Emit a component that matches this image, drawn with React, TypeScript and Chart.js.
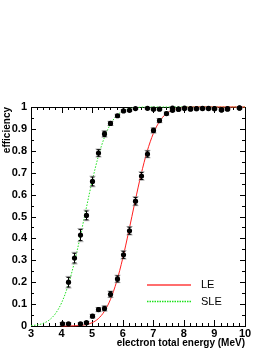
import React, { useEffect, useRef } from "react";
import { Chart, registerables } from "chart.js";

Chart.register(...registerables);

// ---- data ----
const LE_X = [4.0, 4.2, 4.6, 4.8, 5.0, 5.2, 5.4, 5.6, 5.8, 6.0, 6.2, 6.4, 6.6, 6.8, 7.0, 7.2, 7.4, 7.6, 7.8, 8.0, 8.2, 8.4, 8.6, 8.8, 9.0, 9.2, 9.4, 9.8];
const LE_Y = [0.01, 0.01, 0.01, 0.015, 0.045, 0.075, 0.08, 0.145, 0.215, 0.325, 0.435, 0.57, 0.685, 0.785, 0.893, 0.938, 0.97, 0.985, 0.99, 0.993, 0.99, 0.992, 0.993, 0.993, 0.992, 0.986, 0.99, 0.995];
const LE_ERR = [0.005, 0.004, 0.004, 0.005, 0.007, 0.008, 0.01, 0.012, 0.014, 0.016, 0.016, 0.017, 0.016, 0.014, 0.01, 0.008, 0.006, 0.005, 0.004, 0.003, 0.003, 0.003, 0.003, 0.003, 0.003, 0.003, 0.003, 0.003];

const SLE_X = [4.2, 4.4, 4.6, 4.8, 5.0, 5.2, 5.4, 5.6, 5.8, 6.0, 6.2, 6.4, 6.8, 7.0, 7.2, 7.6, 7.8, 8.0, 8.2, 8.4, 8.6, 8.8, 9.0, 9.2, 9.4, 9.8];
const SLE_Y = [0.2, 0.31, 0.415, 0.505, 0.66, 0.79, 0.877, 0.925, 0.96, 0.982, 0.985, 0.993, 0.994, 0.99, 0.99, 0.995, 0.99, 0.995, 0.993, 0.993, 0.994, 0.994, 0.993, 0.988, 0.993, 0.996];
const SLE_ERR = [0.022, 0.022, 0.025, 0.02, 0.02, 0.015, 0.012, 0.008, 0.006, 0.004, 0.004, 0.003, 0.003, 0.003, 0.003, 0.003, 0.003, 0.003, 0.003, 0.003, 0.003, 0.003, 0.003, 0.003, 0.003, 0.003];

const LE_FIT_X = [4.0, 4.4, 4.6, 4.8, 5.0, 5.2, 5.4, 5.6, 5.8, 6.0, 6.2, 6.4, 6.6, 6.8, 7.0, 7.2, 7.4, 7.6, 7.8, 8.0, 8.2, 8.4, 10.0];
const LE_FIT_Y = [0.0, 0.0008, 0.0023, 0.0062, 0.0151, 0.0334, 0.0668, 0.1217, 0.2023, 0.3085, 0.4338, 0.5662, 0.6915, 0.7977, 0.8783, 0.9332, 0.9666, 0.9849, 0.9938, 0.9977, 0.9992, 1.0, 1.0];

const SLE_FIT_X = [3.0, 3.2, 3.4, 3.6, 3.8, 4.0, 4.2, 4.4, 4.6, 4.8, 5.0, 5.2, 5.4, 5.6, 5.8, 6.0, 6.2, 6.4, 6.6, 6.8, 10.0];
const SLE_FIT_Y = [0.0018, 0.0049, 0.0122, 0.0276, 0.0567, 0.1056, 0.1797, 0.2799, 0.4013, 0.5332, 0.6615, 0.7734, 0.8606, 0.9217, 0.9599, 0.9814, 0.9922, 0.997, 0.999, 1.0, 1.0];

const X_MIN = 3;
const X_MAX = 10;
const Y_MIN = 0;
const Y_MAX = 1;

const LEGEND_LABELS = ["LE", "SLE"];
const X_TITLE = "electron total energy (MeV)";
const Y_TITLE = "efficiency";

const RED = "rgb(255,30,30)";
const GREEN = "rgb(30,225,30)";
const FONT = "'Liberation Sans', Arial, Helvetica, sans-serif";

const toPts = (xs: number[], ys: number[]) => xs.map((x, i) => ({ x, y: ys[i] }));

const framePlugin = {
  id: "frameTicks",
  beforeDatasetsDraw(chart: any) {
    const { ctx, chartArea: a, scales } = chart;
    const xs = scales.x;
    const ys = scales.y;
    ctx.save();
    ctx.strokeStyle = "#000";
    ctx.lineWidth = 1;
    ctx.strokeRect(Math.round(a.left) + 0.5, Math.round(a.top) + 0.5, Math.round(a.right - a.left), Math.round(a.bottom - a.top));
    ctx.beginPath();
    for (let k = 0; k <= (X_MAX - X_MIN) * 5; k++) {
      const v = X_MIN + k * 0.2;
      const px = Math.round(xs.getPixelForValue(v)) + 0.5;
      const len = k % 5 === 0 ? 6 : 3;
      ctx.moveTo(px, a.bottom);
      ctx.lineTo(px, a.bottom - len);
      ctx.moveTo(px, a.top);
      ctx.lineTo(px, a.top + len);
    }
    for (let k = 0; k <= 20; k++) {
      const v = Y_MIN + k * 0.05;
      const py = Math.round(ys.getPixelForValue(v)) + 0.5;
      const len = k % 2 === 0 ? 5 : 3;
      ctx.moveTo(a.left, py);
      ctx.lineTo(a.left + len, py);
      ctx.moveTo(a.right, py);
      ctx.lineTo(a.right - len, py);
    }
    ctx.stroke();
    ctx.restore();
  },
};

const errorBarPlugin = {
  id: "errorBars",
  afterDatasetsDraw(chart: any) {
    const { ctx, scales } = chart;
    const xs = scales.x;
    const ys = scales.y;
    ctx.save();
    chart.data.datasets.forEach((ds: any) => {
      if (!ds.errors) return;
      ds.data.forEach((p: any, i: number) => {
        const e = ds.errors[i];
        const px = Math.round(xs.getPixelForValue(p.x)) + 0.5;
        const g1 = ys.getPixelForValue(p.y + e * 1.2);
        const g2 = ys.getPixelForValue(p.y - e * 1.2);
        ctx.strokeStyle = "rgba(150,150,150,0.8)";
        ctx.lineWidth = 1;
        ctx.beginPath();
        ctx.moveTo(px, g1);
        ctx.lineTo(px, g2);
        ctx.moveTo(px - 3, g1);
        ctx.lineTo(px + 3, g1);
        ctx.moveTo(px - 3, g2);
        ctx.lineTo(px + 3, g2);
        ctx.stroke();
        const b1 = ys.getPixelForValue(p.y + e);
        const b2 = ys.getPixelForValue(p.y - e);
        ctx.strokeStyle = "#000";
        ctx.beginPath();
        ctx.moveTo(px, b1);
        ctx.lineTo(px, b2);
        ctx.moveTo(px - 2, b1);
        ctx.lineTo(px + 2, b1);
        ctx.moveTo(px - 2, b2);
        ctx.lineTo(px + 2, b2);
        ctx.stroke();
        ctx.fillStyle = "#000";
        ctx.beginPath();
        ctx.arc(px, ys.getPixelForValue(p.y), 2.6, 0, Math.PI * 2);
        ctx.fill();
      });
    });
    ctx.restore();
  },
};

const legendPlugin = {
  id: "innerLegend",
  afterDraw(chart: any) {
    const { ctx, chartArea: a } = chart;
    ctx.save();
    const x0 = Math.round(a.left + 116);
    const x1 = Math.round(a.left + 160);
    const tx = a.left + 170;
    const y0 = Math.round(a.bottom - 42);
    const y1 = Math.round(a.bottom - 25);
    ctx.fillStyle = "rgb(255,110,110)";
    ctx.fillRect(x0, y0, x1 - x0, 2);
    ctx.strokeStyle = GREEN;
    ctx.lineWidth = 1.5;
    ctx.setLineDash([1.5, 1]);
    ctx.beginPath();
    ctx.moveTo(x0, y1 + 0.5);
    ctx.lineTo(x1, y1 + 0.5);
    ctx.stroke();
    ctx.setLineDash([]);
    ctx.fillStyle = "#000";
    ctx.font = `11px ${FONT}`;
    ctx.textBaseline = "middle";
    ctx.textAlign = "left";
    ctx.fillText(LEGEND_LABELS[0], tx, y0 + 1);
    ctx.fillText(LEGEND_LABELS[1], tx, y1 + 1);
    ctx.restore();
  },
};

export default function App() {
  const ref = useRef<HTMLCanvasElement | null>(null);
  useEffect(() => {
    if (!ref.current) return;
    const chart = new Chart(ref.current, {
      type: "scatter",
      data: {
        datasets: [
          {
            label: "LE points",
            data: toPts(LE_X, LE_Y),
            errors: LE_ERR,
            pointRadius: 0,
            showLine: false,
            order: 0,
            clip: false,
          } as any,
          {
            label: "SLE points",
            data: toPts(SLE_X, SLE_Y),
            errors: SLE_ERR,
            pointRadius: 0,
            showLine: false,
            order: 0,
            clip: false,
          } as any,
          {
            type: "line",
            label: "LE",
            data: toPts(LE_FIT_X, LE_FIT_Y),
            borderColor: RED,
            borderWidth: 1,
            pointRadius: 0,
            cubicInterpolationMode: "monotone",
            order: 1,
            clip: 2,
          } as any,
          {
            type: "line",
            label: "SLE",
            data: toPts(SLE_FIT_X, SLE_FIT_Y),
            borderColor: GREEN,
            borderWidth: 1,
            borderDash: [1.5, 1.5],
            pointRadius: 0,
            cubicInterpolationMode: "monotone",
            order: 2,
            clip: 2,
          } as any,
        ],
      },
      options: {
        animation: false,
        responsive: false,
        maintainAspectRatio: false,
        events: [],
        layout: { padding: { top: 107, right: 27, left: 0, bottom: 0 } },
        plugins: { legend: { display: false }, tooltip: { enabled: false } },
        scales: {
          x: {
            type: "linear",
            min: X_MIN,
            max: X_MAX,
            grid: { display: false, drawTicks: false },
            border: { display: false },
            ticks: {
              stepSize: 1,
              color: "#000",
              font: { family: FONT, size: 11, weight: "bold" },
              padding: 1,
              maxRotation: 0,
              autoSkip: false,
            },
            title: {
              display: true,
              text: X_TITLE,
              align: "end",
              color: "#000",
              font: { family: FONT, size: 10, weight: "bold" },
              padding: { top: 0, bottom: 3 },
            },
            afterFit: (s: any) => {
              s.height = 26;
            },
          },
          y: {
            type: "linear",
            min: Y_MIN,
            max: Y_MAX,
            grid: { display: false, drawTicks: false },
            border: { display: false },
            ticks: {
              stepSize: 0.1,
              color: "#000",
              font: { family: FONT, size: 11, weight: "bold" },
              padding: 4,
              callback: (v: any) => String(Math.round(Number(v) * 10) / 10),
            },
            title: {
              display: true,
              text: Y_TITLE,
              align: "end",
              color: "#000",
              font: { family: FONT, size: 10, weight: "bold" },
              padding: { top: 1, bottom: 0 },
            },
            afterFit: (s: any) => {
              s.width = 31;
            },
          },
        },
      } as any,
      plugins: [framePlugin, errorBarPlugin, legendPlugin],
    });
    return () => chart.destroy();
  }, []);
  return (
    <div style={{ position: "fixed", left: 0, top: 0, width: 272, height: 352, background: "#fff" }}>
      <canvas ref={ref} width={272} height={352} style={{ display: "block", width: 272, height: 352 }} />
    </div>
  );
}
